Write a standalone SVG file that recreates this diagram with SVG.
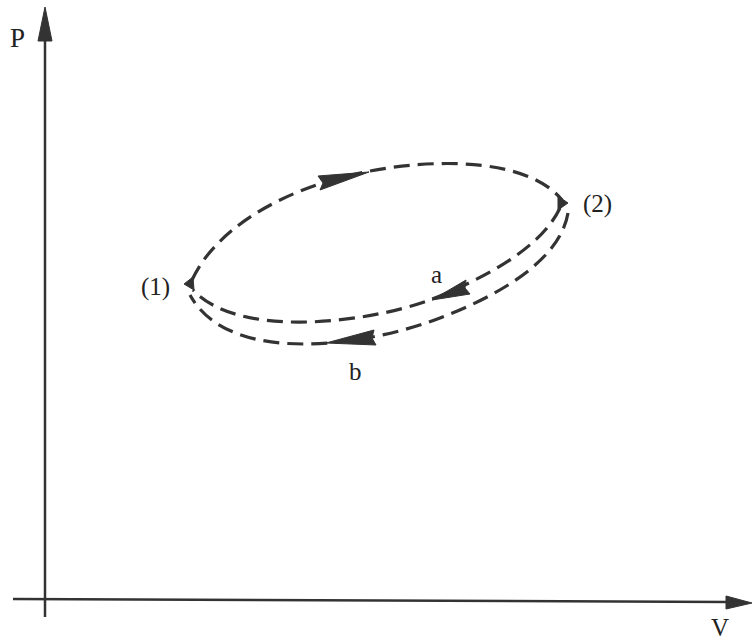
<svg xmlns="http://www.w3.org/2000/svg" width="753" height="641" viewBox="0 0 753 641">
<style>
.axis{stroke:#333;stroke-width:2.5;fill:none}
.head{fill:#333;stroke:#333;stroke-width:1;stroke-linejoin:round}
.dash{stroke:#333;stroke-width:3.2;fill:none;stroke-dasharray:16 8}
.lbl{font-family:"Liberation Serif",serif;fill:#222;font-size:25px}
</style>
<rect width="753" height="641" fill="#ffffff"/>
<g id="axes">
<line class="axis" x1="45" y1="617" x2="45" y2="36"/>
<polygon class="head" points="45,7 38,41 52,41"/>
<line class="axis" x1="13" y1="599" x2="728" y2="602"/>
<polygon class="head" points="752,603 726,596 726,609"/>
<text class="lbl" x="10" y="47" style="font-size:27px">P</text>
<text class="lbl" x="711" y="636">V</text>
</g>
<g id="connectors">
<path class="dash" d="M192,280 C215,230 280,190 360,173 C440,156 530,160 562,200"/>
<path class="dash" d="M560,208 C540,250 480,280 430,300 C370,322 240,340 193,290"/>
<path class="dash" d="M568,213 C560,260 500,295 440,318 C370,345 230,368 190,295"/>
<polygon class="head" points="369,172 320,190 323,183 318,176"/>
<polygon class="head" points="432,300 470,294 465,288 466,280"/>
<polygon class="head" points="326,343 376,345 372,338 374,330"/>
</g>
<g id="node1">
<polygon class="head" points="184,284 193,277 194,290"/>
<text class="lbl" x="141" y="295">(1)</text>
</g>
<g id="node2">
<polygon class="head" points="568,203 558,196 558,210"/>
<text class="lbl" x="583" y="212">(2)</text>
</g>
<g id="labels">
<text class="lbl" x="431" y="283">a</text>
<text class="lbl" x="349" y="380">b</text>
</g>
</svg>
